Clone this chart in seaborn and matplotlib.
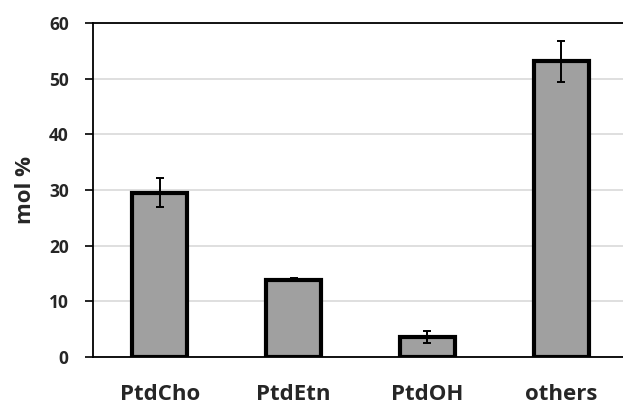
import pandas as pd
import seaborn as sns
import matplotlib.pyplot as plt
import numpy as np

# values
lipids = ["PtdCho", "PtdEtn", "PtdOH", "others"]
mol_pct = [29.5, 13.9, 3.6, 53.1]
err = [2.6, 0.3, 1.0, 3.7]

df = pd.DataFrame({"lipid": lipids, "mol": mol_pct, "err": err})

sns.set_style("white")
plt.rcParams["font.family"] = ["Open Sans", "DejaVu Sans"]
plt.rcParams["font.weight"] = "bold"

fig = plt.figure(figsize=(6.23, 4.05), dpi=100)
ax = fig.add_axes([93 / 623, 48 / 405, 535 / 623, 334 / 405])

sns.barplot(data=df, x="lipid", y="mol", color="#a0a0a0", width=0.41,
            edgecolor="black", linewidth=3, saturation=1, errorbar=None, ax=ax, zorder=3)
ax.errorbar(np.arange(len(lipids)), df["mol"], yerr=df["err"], fmt="none",
            ecolor="black", elinewidth=1.4, capsize=3, capthick=1.4, zorder=4)

ax.set_ylim(0, 60)
ax.set_xlim(-0.5, 3.5)
ax.set_yticks(range(0, 61, 10))
ax.yaxis.grid(True, color="#d9d9d9", linewidth=1.2, zorder=0)
ax.set_axisbelow(True)

for s in ["left", "bottom", "top"]:
    ax.spines[s].set_color("black")
    ax.spines[s].set_linewidth(1.3)
ax.spines["right"].set_visible(False)

ax.set_xticks(np.arange(-0.5, 4, 1), minor=True)
ax.tick_params(axis="x", which="major", length=0, pad=19.5, labelsize=16)
ax.tick_params(axis="x", which="minor", length=7, width=1.2, color="black", direction="out")
ax.tick_params(axis="y", length=6, width=1.2, color="black", direction="out", pad=11.5,
               labelsize=12.5, left=True)
for lab in ax.get_xticklabels() + ax.get_yticklabels():
    lab.set_fontweight("bold")

ax.set_xlabel("")
ax.set_ylabel("mol %", fontsize=16, fontweight="bold", labelpad=9)

fig.savefig("out.png", dpi=100)
